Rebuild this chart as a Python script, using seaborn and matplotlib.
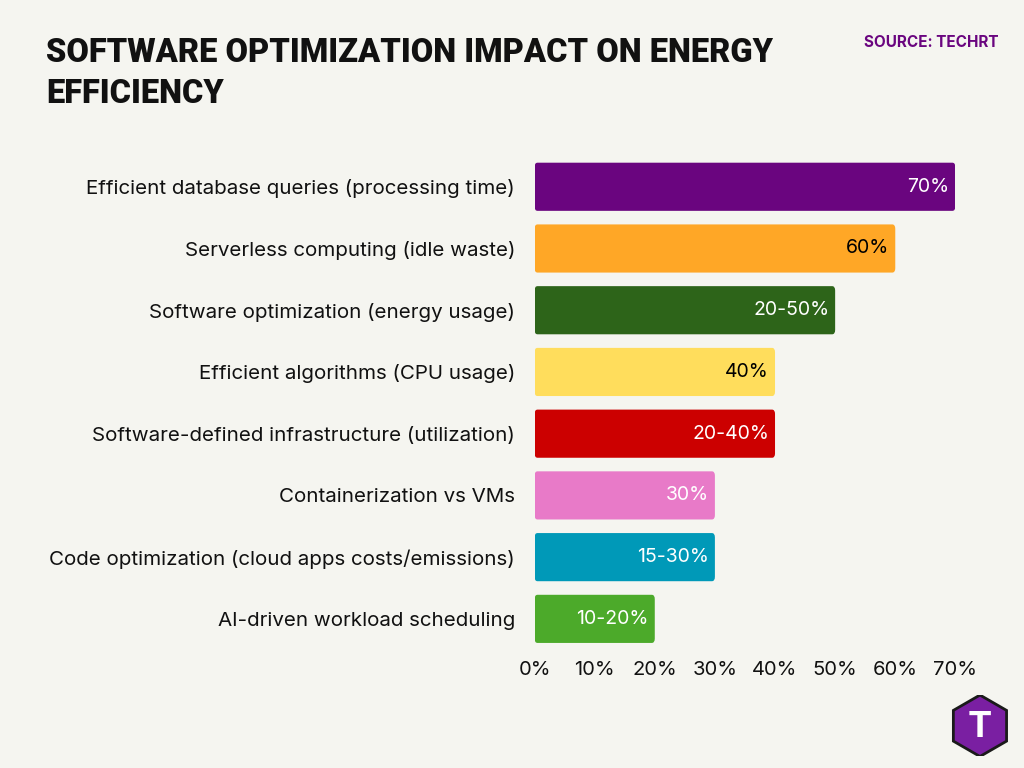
import matplotlib
matplotlib.use("Agg")
import matplotlib.pyplot as plt
import seaborn as sns
import pandas as pd
from matplotlib.patches import FancyBboxPatch, RegularPolygon

categories = ["Efficient database queries (processing time)", "Serverless computing (idle waste)",
              "Software optimization (energy usage)", "Efficient algorithms (CPU usage)",
              "Software-defined infrastructure (utilization)", "Containerization vs VMs",
              "Code optimization (cloud apps costs/emissions)", "AI-driven workload scheduling"]
values = [70, 60, 50, 40, 40, 30, 30, 20]
labels = ["70%", "60%", "20-50%", "40%", "20-40%", "30%", "15-30%", "10-20%"]
colors = ["#6a057f", "#ffa726", "#2d6419", "#ffdd5c", "#cc0000", "#e87ac8", "#0099b8", "#4caa2a"]
label_colors = ["white", "black", "white", "black", "white", "white", "white", "white"]
ticks = [0, 10, 20, 30, 40, 50, 60, 70]

sns.set_style("white")
plt.rcParams["font.family"] = ["Inter", "DejaVu Sans"]
bg = "#f5f5f0"
fig = plt.figure(figsize=(10.24, 7.68), dpi=100, facecolor=bg)
ax = fig.add_axes([0.522, 0.154, 0.411, 0.643], facecolor=bg)
df = pd.DataFrame({"cat": categories, "val": values})
sns.barplot(data=df, y="cat", x="val", hue="cat", palette=colors, legend=False, ax=ax, width=0.78, saturation=1)
for p, c in zip(list(ax.patches), colors):
    x, y, w, h = p.get_x(), p.get_y(), p.get_width(), p.get_height()
    p.set_visible(False)
    ax.add_patch(FancyBboxPatch((x, y), w, h, boxstyle="round,pad=0,rounding_size=0.5",
                                mutation_aspect=0.14, fc=c, ec="none"))
for i, (v, l, lc) in enumerate(zip(values, labels, label_colors)):
    ax.text(v - 1, i, l, ha="right", va="center", color=lc, fontsize=14)
ax.set_xlim(0, 70)
ax.set_xticks(ticks)
ax.set_xticklabels([f"{t}%" for t in ticks], fontsize=14.5, color="#111111")
ax.tick_params(axis="y", labelsize=14.8, length=0, pad=14, labelcolor="#111111")
ax.tick_params(axis="x", length=0, pad=8)
ax.set_xlabel(""); ax.set_ylabel("")
sns.despine(ax=ax, left=True, bottom=True)
fig.text(0.045, 0.952, "SOFTWARE OPTIMIZATION IMPACT ON ENERGY\nEFFICIENCY", fontsize=23.5, fontweight="heavy",
         family=["Roboto", "DejaVu Sans"], va="top", linespacing=1.35, color="#111111")
fig.text(0.975, 0.945, "SOURCE: TECHRT", fontsize=11, fontweight="bold", color="#6a057f", ha="right", va="center")
lax = fig.add_axes([0.927, 0.015, 0.06, 0.08]); lax.axis("off")
lax.set_xlim(-1, 1); lax.set_ylim(-1, 1); lax.set_aspect("equal")
lax.add_patch(RegularPolygon((0, 0), 6, radius=1, fc="#7a1fa2", ec="#1a1a1a", lw=2))
lax.text(0, -0.05, "T", ha="center", va="center", fontsize=26, fontweight="bold", color="white")
fig.savefig("out.png", facecolor=bg)
